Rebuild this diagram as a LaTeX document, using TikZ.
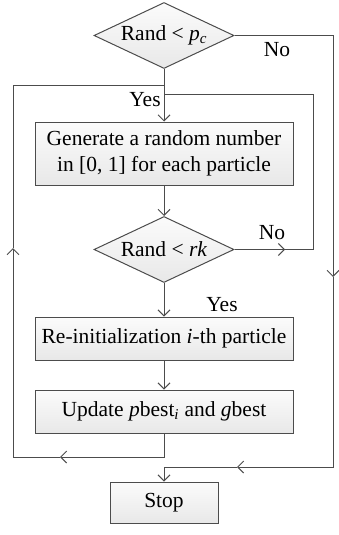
\documentclass[tikz,border=0pt]{standalone}
\usepackage{fontspec}
\setmainfont{Liberation Serif}
\usetikzlibrary{arrows.meta,shapes.geometric,positioning}

\tikzset{
  line/.style={draw=black!70, line width=1pt},
  flowbox/.style={line, rectangle, top color=gray!3, bottom color=gray!18, minimum width=258pt, minimum height=43pt, inner sep=0pt, align=center},
  testbox/.style={line, diamond, aspect=2.1, top color=gray!3, bottom color=gray!18, minimum width=140pt, minimum height=66pt, inner sep=0pt},
  tag/.style={inner sep=0pt}
}

\begin{document}
\begin{tikzpicture}[x=1pt, y=-1pt, font=\fontsize{21.5}{26}\selectfont, >={Straight Barb[length=6pt,width=12pt]}]
\useasboundingbox (0,0) rectangle (339,535);
% blocks
\node[testbox] (test1) at (164,35.5) {Rand < \textit{p}\textsubscript{\textit{c}}};
\node[flowbox, minimum height=63pt] (gen) at (164,153.5) {Generate a random number\\ in [0, 1] for each particle};
\node[testbox] (test2) at (164,249.5) {Rand < \textit{rk}};
\node[flowbox] (reinit) at (164,338.5) {Re-initialization \textit{i}-th particle};
\node[flowbox] (update) at (164,411.5) {Update \textit{p}best\textsubscript{\textit{i}} and \textit{g}best};
\node[flowbox, minimum width=108pt, minimum height=41pt] (stop) at (164,502.5) {Stop};
% labels
\node[tag] (no1) at (277,50) {No};
\node[tag] (yes1) at (145,100) {Yes};
\node[tag] (no2) at (272,233) {No};
\node[tag] (yes2) at (222,305) {Yes};
% turning points
\coordinate (outerTop) at (164,85);
\coordinate (innerTop) at (164,94);
\coordinate (innerRight) at (313,94);
\coordinate (noTip) at (285,249.5);
\coordinate (rightTip) at (333,277);
\coordinate (stopTip) at (237,467);
\coordinate (backTip) at (60,457);
\coordinate (upTip) at (13,248);
% main line
\draw[line,->] (test1.south) -- (gen.north);
\draw[line,->] (gen.south) -- (test2.north);
\draw[line,->] (test2.south) -- (reinit.north);
\draw[line,->] (reinit.south) -- (update.north);
% rk no
\draw[line,->] (test2.east) -- (noTip);
\draw[line] (noTip) -| (innerRight) -- (innerTop);
% pc no
\draw[line,->] (test1.east) -| (rightTip);
\draw[line,->] (rightTip) |- (stopTip);
\draw[line,->] (stopTip) -| (stop.north);
% back loop
\draw[line,->] (update.south) |- (backTip);
\draw[line,->] (backTip) -| (upTip);
\draw[line] (upTip) |- (outerTop);
\end{tikzpicture}
\end{document}
